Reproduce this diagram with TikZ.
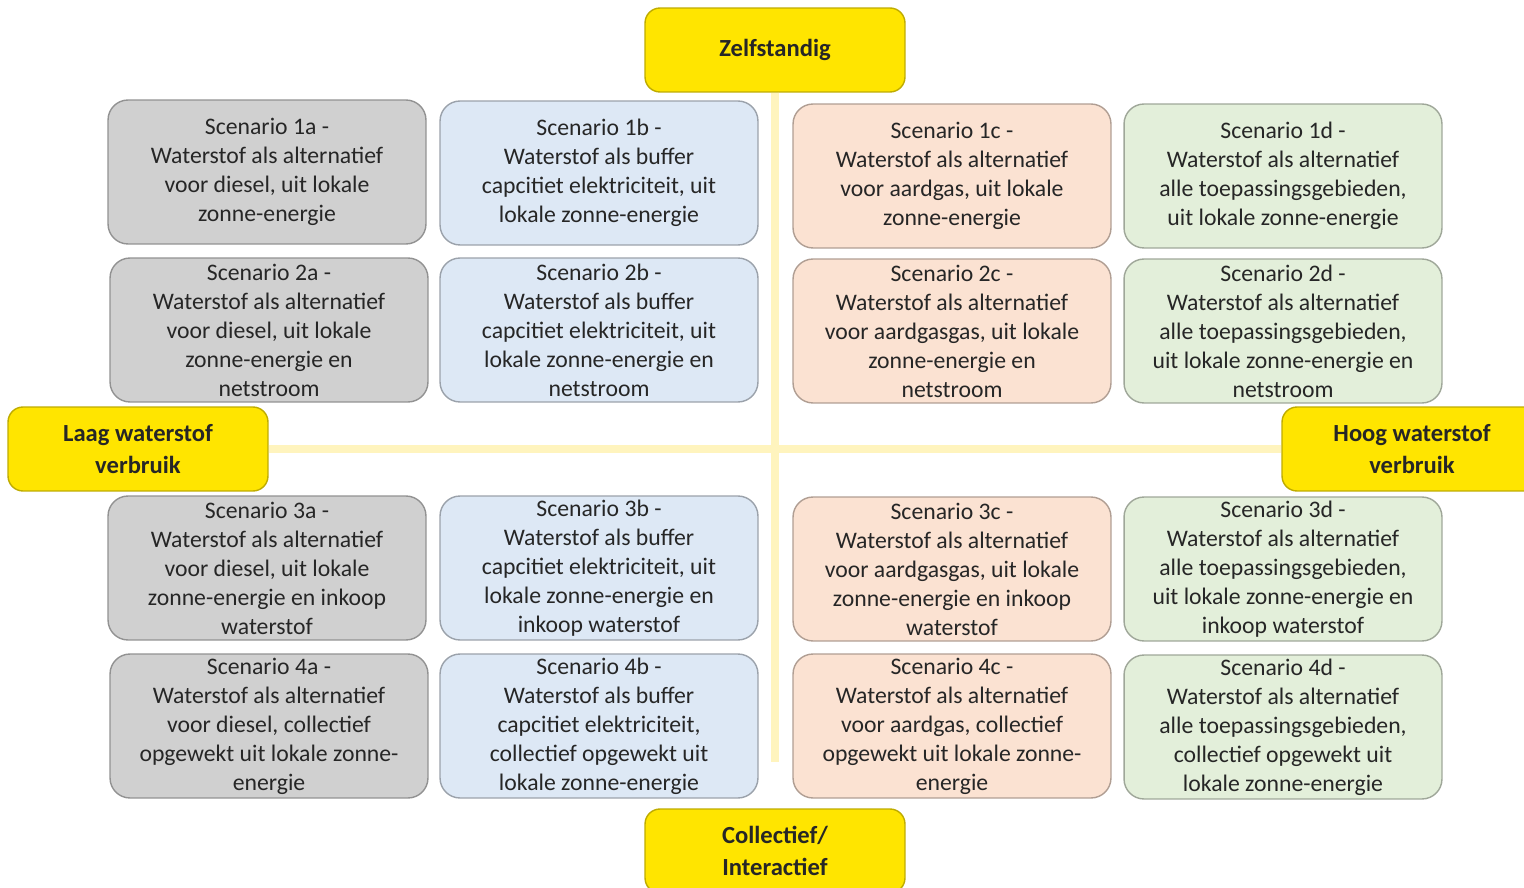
\documentclass[tikz,border=0pt]{standalone}
\usepackage{fontspec}
\setmainfont{Carlito}
\usepackage{xcolor}
\usepackage{tikz}
\usetikzlibrary{positioning,calc}
\definecolor{ggray}{HTML}{D0D0D0}
\definecolor{gblue}{HTML}{DDE8F5}
\definecolor{gorange}{HTML}{FBE2D2}
\definecolor{ggreen}{HTML}{E3EFDA}
\definecolor{gyellow}{HTML}{FFE500}
\definecolor{gline}{HTML}{FFF4BE}
\definecolor{gtext}{HTML}{262626}
\begin{document}
\begin{tikzpicture}[x=0.02cm,y=-0.02cm,font=\fontsize{13.5}{16.5}\selectfont,text=gtext,scen/.style={draw=#1!70!black,line width=0.8pt,rounded corners=0.4cm,align=center,minimum width=6.36cm,minimum height=2.88cm,inner sep=2pt,fill=#1},scen/.default=ggray,pole/.style={draw=gyellow!75!black,line width=0.8pt,rounded corners=0.3cm,align=center,minimum width=5.2cm,minimum height=1.68cm,fill=gyellow,font=\fontsize{14}{18}\selectfont\bfseries},guide/.style={gline,line width=4.5pt}]
\useasboundingbox (0,0) rectangle (1524,888);
% poles of the two axes
\node[pole](z) at (775,50){Zelfstandig};
\node[pole](k) at (775,851){Collectief/\\Interactief};
\node[pole](l) at (138,449){Laag waterstof\\verbruik};
\node[pole](h) at (1412,449){Hoog waterstof\\verbruik};
\coordinate (e) at (775,762);
\draw[guide](z.south)--(e);\draw[guide](l.east)--(h.west);
% scenarios
\node[scen=ggray](s1a) at (267,172){Scenario 1a -\\Waterstof als alternatief\\voor diesel, uit lokale\\zonne-energie};
\node[scen=gblue](s1b) at (599,173){Scenario 1b -\\Waterstof als buffer\\capcitiet elektriciteit, uit\\lokale zonne-energie};
\node[scen=gorange](s1c) at (952,176){Scenario 1c -\\Waterstof als alternatief\\voor aardgas, uit lokale\\zonne-energie};
\node[scen=ggreen](s1d) at (1283,176){Scenario 1d -\\Waterstof als alternatief\\alle toepassingsgebieden,\\uit lokale zonne-energie};
\node[scen=ggray](s2a) at (269,330){Scenario 2a -\\Waterstof als alternatief\\voor diesel, uit lokale\\zonne-energie en\\netstroom};
\node[scen=gblue](s2b) at (599,330){Scenario 2b -\\Waterstof als buffer\\capcitiet elektriciteit, uit\\lokale zonne-energie en\\netstroom};
\node[scen=gorange](s2c) at (952,331){Scenario 2c -\\Waterstof als alternatief\\voor aardgasgas, uit lokale\\zonne-energie en\\netstroom};
\node[scen=ggreen](s2d) at (1283,331){Scenario 2d -\\Waterstof als alternatief\\alle toepassingsgebieden,\\uit lokale zonne-energie en\\netstroom};
\node[scen=ggray](s3a) at (267,568){Scenario 3a -\\Waterstof als alternatief\\voor diesel, uit lokale\\zonne-energie en inkoop\\waterstof};
\node[scen=gblue](s3b) at (599,568){Scenario 3b -\\Waterstof als buffer\\capcitiet elektriciteit, uit\\lokale zonne-energie en\\inkoop waterstof};
\node[scen=gorange](s3c) at (952,569){Scenario 3c -\\Waterstof als alternatief\\voor aardgasgas, uit lokale\\zonne-energie en inkoop\\waterstof};
\node[scen=ggreen](s3d) at (1283,569){Scenario 3d -\\Waterstof als alternatief\\alle toepassingsgebieden,\\uit lokale zonne-energie en\\inkoop waterstof};
\node[scen=ggray](s4a) at (269,726){Scenario 4a -\\Waterstof als alternatief\\voor diesel, collectief\\opgewekt uit lokale zonne-\\energie};
\node[scen=gblue](s4b) at (599,726){Scenario 4b -\\Waterstof als buffer\\capcitiet elektriciteit,\\collectief opgewekt uit\\lokale zonne-energie};
\node[scen=gorange](s4c) at (952,726){Scenario 4c -\\Waterstof als alternatief\\voor aardgas, collectief\\opgewekt uit lokale zonne-\\energie};
\node[scen=ggreen](s4d) at (1283,727){Scenario 4d -\\Waterstof als alternatief\\alle toepassingsgebieden,\\collectief opgewekt uit\\lokale zonne-energie};
\end{tikzpicture}
\end{document}
